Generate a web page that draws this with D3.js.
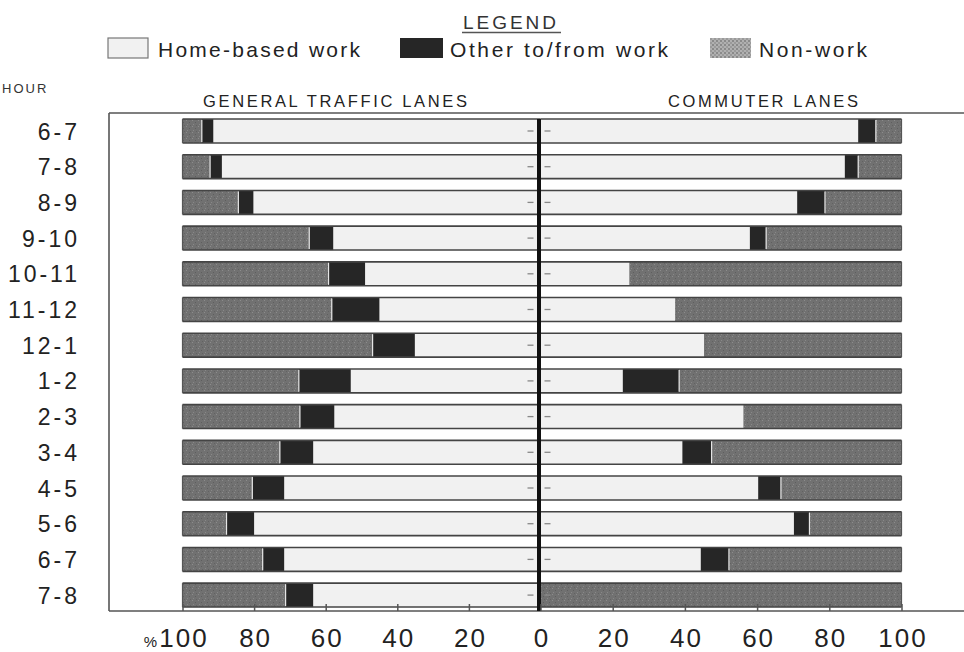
<!DOCTYPE html>
<html>
<head>
<meta charset="utf-8">
<script src="https://cdn.jsdelivr.net/npm/d3@7"></script>
<style>
  html, body { margin: 0; padding: 0; background: #fff; }
  svg { display: block; font-family: "Liberation Sans", Arial, Helvetica, sans-serif; }
</style>
</head>
<body>
<svg id="chart" width="964" height="652"></svg>
<script>
// ---------- data ----------
const hours = ["6-7","7-8","8-9","9-10","10-11","11-12","12-1","1-2","2-3","3-4","4-5","5-6","6-7","7-8"];
const seriesNames = ["Home-based work", "Other to/from work", "Non-work"];

// General traffic lanes (percent of trips)
const generalHomeWork  = [91.4, 89.0, 80.2, 57.9, 49.0, 45.0, 35.1, 53.0, 57.6, 63.5, 71.6, 80.0, 71.6, 63.5];
const generalOtherWork = [ 3.2,  3.3,  4.2,  6.7, 10.2, 13.3, 11.8, 14.5,  9.6,  9.3,  8.9,  7.7,  6.0,  7.7];
const generalNonWork   = [ 5.4,  7.7, 15.6, 35.4, 40.8, 41.7, 53.1, 32.5, 32.8, 27.2, 19.5, 12.3, 22.4, 28.8];

// Commuter lanes (percent of trips)
const commuterHomeWork  = [88.0, 84.3, 71.1, 58.0, 24.6, 37.3, 45.3, 22.8, 56.2, 39.3, 60.3, 70.2, 44.4, 0];
const commuterOtherWork = [ 4.9,  3.7,  7.7,  4.5,  0,    0,    0,   15.6,  0,    8.1,  6.3,  4.3,  7.8, 0];
const commuterNonWork   = [ 7.1, 12.0, 21.2, 37.5, 75.4, 62.7, 54.7, 61.6, 43.8, 52.6, 33.4, 25.5, 47.8, 100];

const tickValues = [0, 20, 40, 60, 80, 100];

// ---------- setup ----------
const svg = d3.select("#chart");
const defs = svg.append("defs");

// mottled texture for non-work
const pat = defs.append("pattern").attr("id", "nonwork").attr("patternUnits", "userSpaceOnUse")
  .attr("width", 6).attr("height", 6);
pat.append("rect").attr("width", 6).attr("height", 6).attr("fill", "#717171");
pat.append("rect").attr("x", 0).attr("y", 0).attr("width", 1).attr("height", 1).attr("fill", "#8c8c8c");
pat.append("rect").attr("x", 3).attr("y", 2).attr("width", 1).attr("height", 1).attr("fill", "#5e5e5e");
pat.append("rect").attr("x", 1).attr("y", 4).attr("width", 1).attr("height", 1).attr("fill", "#888");
pat.append("rect").attr("x", 4).attr("y", 5).attr("width", 1).attr("height", 1).attr("fill", "#626262");

const patL = defs.append("pattern").attr("id", "nonworkLegend").attr("patternUnits", "userSpaceOnUse")
  .attr("width", 4).attr("height", 4);
patL.append("rect").attr("width", 4).attr("height", 4).attr("fill", "#b0b0b0");
patL.append("rect").attr("x", 0).attr("y", 0).attr("width", 2).attr("height", 2).attr("fill", "#8a8a8a");
patL.append("rect").attr("x", 2).attr("y", 2).attr("width", 2).attr("height", 2).attr("fill", "#9a9a9a");

const colors = { home: "#f1f1f1", other: "#262626", non: "url(#nonwork)" };

const center = 540.5;
const xLeft  = d3.scaleLinear().domain([0, 100]).range([center, 182.5]);
const xRight = d3.scaleLinear().domain([0, 100]).range([center, 901.5]);

const y = d3.scaleBand().domain(d3.range(hours.length))
  .range([113.15, 113.15 + 14 * 35.7]).paddingInner(0.33).paddingOuter(0.165);

const frameLeft = 109, frameTop = 113, frameBottom = 611, frameRight = 964;

// ---------- legend ----------
svg.append("text").attr("x", 511).attr("y", 29).attr("text-anchor", "middle")
  .attr("font-size", 19).attr("letter-spacing", 3).attr("fill", "#333").text("LEGEND");
svg.append("line").attr("x1", 462).attr("x2", 561).attr("y1", 32.5).attr("y2", 32.5)
  .attr("stroke", "#555").attr("stroke-width", 1.3);

const legendItems = [
  { name: seriesNames[0], fill: colors.home, sx: 108, sw: 40, tx: 158, tw: 202 },
  { name: seriesNames[1], fill: colors.other, sx: 400, sw: 43, tx: 450, tw: 218 },
  { name: seriesNames[2], fill: "url(#nonworkLegend)", sx: 710, sw: 41, tx: 759, tw: 108 }
];
const lg = svg.append("g");
legendItems.forEach(d => {
  lg.append("rect").attr("x", d.sx).attr("y", 38).attr("width", d.sw).attr("height", 20)
    .attr("fill", d.fill).attr("stroke", d.fill === colors.home ? "#777" : "none").attr("stroke-width", 1.2);
  lg.append("text").attr("x", d.tx).attr("y", 57).attr("font-size", 21).attr("fill", "#222")
    .attr("textLength", d.tw).attr("lengthAdjust", "spacing").text(d.name);
});

// ---------- headers ----------
svg.append("text").attr("x", 2).attr("y", 93).attr("font-size", 13).attr("letter-spacing", 2)
  .attr("fill", "#333").text("HOUR");
svg.append("text").attr("x", 203).attr("y", 107).attr("font-size", 16.5).attr("fill", "#222")
  .attr("textLength", 264).attr("lengthAdjust", "spacing").text("GENERAL TRAFFIC LANES");
svg.append("text").attr("x", 668).attr("y", 107).attr("font-size", 16.5).attr("fill", "#222")
  .attr("textLength", 190).attr("lengthAdjust", "spacing").text("COMMUTER LANES");

// ---------- frame ----------
const frame = svg.append("g").attr("stroke", "#555").attr("stroke-width", 1.6).attr("fill", "none");
frame.append("line").attr("x1", frameLeft).attr("x2", frameLeft).attr("y1", frameTop).attr("y2", frameBottom);
frame.append("line").attr("x1", frameLeft).attr("x2", frameRight).attr("y1", frameTop).attr("y2", frameTop);
frame.append("line").attr("x1", frameLeft).attr("x2", frameRight).attr("y1", frameBottom).attr("y2", frameBottom);

// ---------- bars ----------
function stackRows(home, other, non) {
  return hours.map((h, i) => {
    const segs = [];
    let acc = 0;
    [[home[i], colors.home], [other[i], colors.other], [non[i], colors.non]].forEach(([v, c]) => {
      segs.push({ i, x0: acc, x1: acc + v, fill: c });
      acc += v;
    });
    return { i, segs, total: acc, home: home[i], other: other[i] };
  });
}

function drawSide(rows, scale, cls) {
  const g = svg.append("g").attr("class", cls);
  const rowG = g.selectAll("g.row").data(rows).join("g").attr("class", "row");
  rowG.selectAll("rect").data(d => d.segs.filter(s => s.x1 > s.x0)).join("rect")
    .attr("x", s => Math.min(scale(s.x0), scale(s.x1)))
    .attr("width", s => Math.abs(scale(s.x1) - scale(s.x0)))
    .attr("y", s => y(s.i))
    .attr("height", y.bandwidth())
    .attr("fill", s => s.fill);
  // top and bottom outlines
  rowG.each(function(d) {
    const sel = d3.select(this);
    const xa = scale(0), xb = scale(d.total);
    [y(d.i), y(d.i) + y.bandwidth()].forEach(yy => {
      sel.append("line").attr("x1", xa).attr("x2", xb).attr("y1", yy).attr("y2", yy)
        .attr("stroke", "#444").attr("stroke-width", 1.6);
    });
    // light separator between other and non-work
    const b = d.home + d.other;
    if (d.other > 0) {
      sel.append("line").attr("x1", scale(b)).attr("x2", scale(b))
        .attr("y1", y(d.i) + 1).attr("y2", y(d.i) + y.bandwidth() - 1)
        .attr("stroke", "#e6e6e6").attr("stroke-width", 1.2);
    }
    // outer end edge
    sel.append("line").attr("x1", xb).attr("x2", xb)
      .attr("y1", y(d.i)).attr("y2", y(d.i) + y.bandwidth())
      .attr("stroke", "#555").attr("stroke-width", 1.2);
  });
}

drawSide(stackRows(generalHomeWork, generalOtherWork, generalNonWork), xLeft, "general");
drawSide(stackRows(commuterHomeWork, commuterOtherWork, commuterNonWork), xRight, "commuter");

// small dashes at row centers near the center line
const dashes = svg.append("g").attr("stroke", "#888").attr("stroke-width", 1.3);
hours.forEach((h, i) => {
  const cy = y(i) + y.bandwidth() / 2;
  dashes.append("line").attr("x1", center - 13).attr("x2", center - 7).attr("y1", cy).attr("y2", cy);
  dashes.append("line").attr("x1", center + 4).attr("x2", center + 10).attr("y1", cy).attr("y2", cy);
});

// center line
svg.append("line").attr("x1", center - 1.5).attr("x2", center - 1.5)
  .attr("y1", y(0)).attr("y2", frameBottom)
  .attr("stroke", "#111").attr("stroke-width", 4);

// ---------- row labels ----------
svg.append("g").selectAll("text").data(hours).join("text")
  .attr("x", 80).attr("y", (d, i) => y(i) + y.bandwidth() / 2 + 8.5)
  .attr("text-anchor", "end").attr("font-size", 23).attr("letter-spacing", 3)
  .attr("fill", "#222").text(d => d);

// ---------- axes ----------
const axisL = d3.axisBottom(xLeft).tickValues(tickValues.filter(v => v > 0))
  .tickSize(-7).tickFormat(d3.format("d"));
const axisR = d3.axisBottom(xRight).tickValues(tickValues)
  .tickSize(-7).tickFormat(d3.format("d"));

function styleAxis(g) {
  g.select(".domain").remove();
  g.selectAll(".tick line").attr("stroke", "#555").attr("stroke-width", 1.5);
  g.selectAll(".tick text").attr("y", 36).attr("dy", 0)
    .attr("font-size", 26).attr("letter-spacing", 2).attr("dx", 1)
    .attr("fill", "#222").attr("font-family", "\"Liberation Sans\", Arial, sans-serif");
}
const gL = svg.append("g").attr("transform", `translate(0,${frameBottom})`).call(axisL).call(styleAxis);
const gR = svg.append("g").attr("transform", `translate(0,${frameBottom})`).call(axisR).call(styleAxis);

gL.selectAll(".tick").filter(d => d === 100).append("text")
  .attr("x", -26).attr("y", 36).attr("text-anchor", "end")
  .attr("font-size", 15).attr("fill", "#222").text("%");
</script>
</body>
</html>
